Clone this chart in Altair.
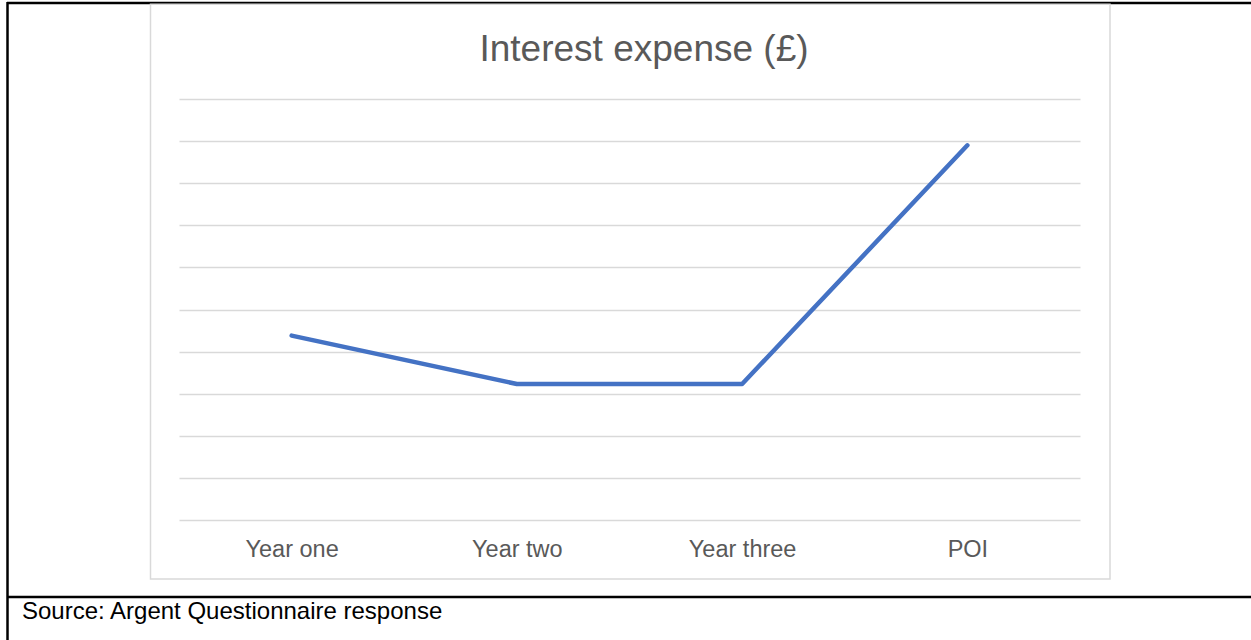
import altair as alt
import pandas as pd

categories = ["Year one", "Year two", "Year three", "POI"]
values = [4.38, 3.23, 3.23, 8.9]
y_ticks = list(range(0, 11))

title_text = "Interest expense (£)"
source_text = "Source: Argent Questionnaire response"

df = pd.DataFrame({"period": categories, "expense": values})
one = alt.Data(values=[{"k": 1}])

# plot area origin in page pixels: (179, 99)
OX, OY = 179, 99

frame_top = alt.Chart(one).mark_rule(color="black", strokeWidth=2.5).encode(
    x=alt.value(7 - OX), x2=alt.value(1251 - OX), y=alt.value(3 - OY))
frame_left = alt.Chart(one).mark_rule(color="black", strokeWidth=2.5).encode(
    x=alt.value(7.5 - OX), y=alt.value(2 - OY), y2=alt.value(640 - OY))
frame_mid = alt.Chart(one).mark_rule(color="black", strokeWidth=2.5).encode(
    x=alt.value(7 - OX), x2=alt.value(1251 - OX), y=alt.value(597 - OY))

box = alt.Chart(one).mark_rect(fill="white", fillOpacity=0, stroke="#d9d9d9", strokeWidth=1.5).encode(
    x=alt.value(150.5 - OX), x2=alt.value(1110 - OX),
    y=alt.value(4.2 - OY), y2=alt.value(579 - OY))

title = alt.Chart(one).mark_text(
    text=title_text, align="center", baseline="alphabetic",
    font="Liberation Sans", fontSize=37, color="#595959").encode(
    x=alt.value(644 - OX), y=alt.value(61 - OY))

source = alt.Chart(one).mark_text(
    text=source_text, align="left", baseline="alphabetic",
    font="Liberation Sans", fontSize=24, color="black").encode(
    x=alt.value(22 - OX), y=alt.value(619 - OY))

line = alt.Chart(df).mark_line(
    color="#4472C4", strokeWidth=4.5, strokeCap="round", strokeJoin="round").encode(
    x=alt.X("period:N", sort=categories, scale=alt.Scale(type="point", padding=0.5),
            axis=alt.Axis(title=None, labelAngle=0, ticks=False, domain=False, grid=False,
                          labelFontSize=23.5, labelColor="#595959", labelFont="Liberation Sans",
                          labelPadding=17)),
    y=alt.Y("expense:Q", scale=alt.Scale(domain=[0, 10], nice=False),
            axis=alt.Axis(title=None, labels=False, ticks=False, domain=False, grid=True,
                          gridColor="#d9d9d9", gridWidth=1.5, values=y_ticks)),
)

chart = alt.layer(frame_top, frame_left, frame_mid, box, title, source, line).properties(
    width=901, height=421,
    padding={"left": OX, "top": OY, "right": 1251 - OX - 901, "bottom": 640 - OY - 421},
    autosize=alt.AutoSizeParams(type="none"),
    background="white",
).configure_view(stroke=None)

chart.save("out.html", embed_options={"renderer": "svg", "actions": False})
